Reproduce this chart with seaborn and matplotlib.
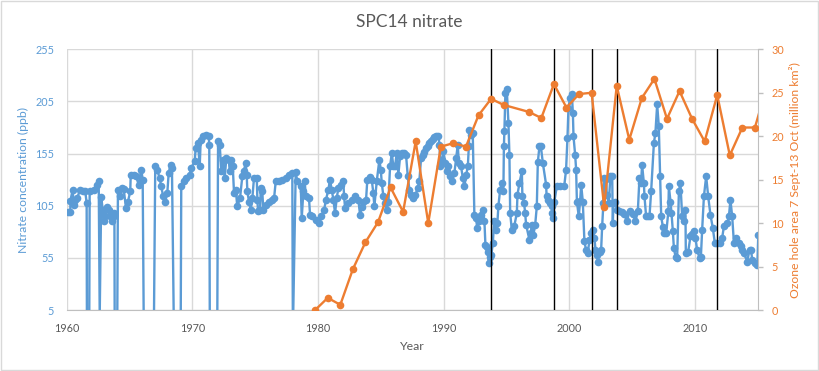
import pandas as pd
import matplotlib
matplotlib.use("Agg")
import matplotlib.pyplot as plt
from matplotlib.patches import Rectangle
import seaborn as sns

# SPC14 nitrate record (decimal year, ppb); 0 = gaps that Excel drew to the floor
nitrate_year = [
    1960.10, 1960.29, 1960.30, 1960.48, 1960.56, 1960.68, 1960.82, 1961.08, 1961.27, 1961.48,
    1961.59, 1961.61, 1961.80, 1961.83, 1962.15, 1962.41, 1962.55, 1962.63, 1962.75, 1962.87,
    1962.95, 1963.07, 1963.21, 1963.34, 1963.47, 1963.61, 1963.74, 1963.80, 1963.82, 1964.03,
    1964.08, 1964.27, 1964.40, 1964.54, 1964.72, 1964.88, 1965.06, 1965.10, 1965.33, 1965.52,
    1965.73, 1965.94, 1966.05, 1966.13, 1966.95, 1967.05, 1967.21, 1967.40, 1967.53, 1967.67,
    1967.85, 1968.01, 1968.12, 1968.28, 1968.38, 1968.52, 1969.08, 1969.12, 1969.34, 1969.52,
    1969.79, 1969.92, 1970.19, 1970.27, 1970.45, 1970.59, 1970.67, 1970.85, 1971.11, 1971.30,
    1971.35, 1971.39, 1971.99, 1972.05, 1972.18, 1972.31, 1972.44, 1972.58, 1972.71, 1972.90,
    1972.98, 1973.10, 1973.22, 1973.32, 1973.46, 1973.58, 1973.80, 1973.98, 1974.09, 1974.25,
    1974.33, 1974.38, 1974.51, 1974.65, 1974.78, 1974.91, 1975.13, 1975.18, 1975.23, 1975.39,
    1975.45, 1975.57, 1975.65, 1975.84, 1976.11, 1976.37, 1976.51, 1976.64, 1976.90, 1977.17,
    1977.44, 1977.70, 1977.96, 1978.00, 1978.03, 1978.23, 1978.36, 1978.63, 1978.71, 1978.84,
    1978.95, 1979.03, 1979.29, 1979.37, 1979.55, 1979.82, 1980.09, 1980.27, 1980.49, 1980.64,
    1980.83, 1980.96, 1981.10, 1981.23, 1981.36, 1981.50, 1981.62, 1981.82, 1982.02, 1982.08,
    1982.16, 1982.42, 1982.69, 1982.95, 1983.22, 1983.35, 1983.49, 1983.62, 1983.83, 1983.93,
    1984.14, 1984.28, 1984.41, 1984.49, 1984.68, 1984.89, 1985.00, 1985.08, 1985.21, 1985.34,
    1985.48, 1985.61, 1985.74, 1985.88, 1986.00, 1986.14, 1986.27, 1986.40, 1986.54, 1986.70,
    1986.86, 1987.01, 1987.15, 1987.28, 1987.41, 1987.60, 1987.76, 1987.95, 1988.07, 1988.21,
    1988.34, 1988.47, 1988.61, 1988.74, 1988.87, 1989.00, 1989.14, 1989.27, 1989.40, 1989.59,
    1989.67, 1989.75, 1989.88, 1989.98, 1990.14, 1990.25, 1990.36, 1990.52, 1990.68, 1990.86,
    1991.00, 1991.13, 1991.21, 1991.39, 1991.53, 1991.66, 1991.79, 1991.93, 1992.01, 1992.06,
    1992.19, 1992.32, 1992.45, 1992.59, 1992.67, 1992.80, 1992.99, 1993.12, 1993.25, 1993.33,
    1993.44, 1993.52, 1993.60, 1993.73, 1993.80, 1993.92, 1994.02, 1994.18, 1994.28, 1994.36,
    1994.50, 1994.63, 1994.76, 1994.80, 1994.84, 1994.92, 1995.03, 1995.16, 1995.24, 1995.30,
    1995.43, 1995.62, 1995.83, 1995.88, 1996.04, 1996.23, 1996.27, 1996.41, 1996.49, 1996.57,
    1996.83, 1996.94, 1997.02, 1997.15, 1997.29, 1997.42, 1997.50, 1997.63, 1997.74, 1997.90,
    1998.16, 1998.20, 1998.34, 1998.48, 1998.61, 1998.66, 1998.70, 1998.82, 1999.01, 1999.30,
    1999.60, 1999.75, 1999.86, 1999.94, 2000.07, 2000.21, 2000.29, 2000.34, 2000.47, 2000.55,
    2000.61, 2000.76, 2000.87, 2000.95, 2001.08, 2001.21, 2001.34, 2001.48, 2001.61, 2001.74,
    2001.88, 2002.01, 2002.09, 2002.20, 2002.28, 2002.41, 2002.54, 2002.62, 2002.72, 2002.80,
    2002.94, 2002.99, 2003.15, 2003.28, 2003.42, 2003.47, 2003.52, 2003.68, 2003.79, 2004.00,
    2004.20, 2004.39, 2004.59, 2004.80, 2005.06, 2005.27, 2005.46, 2005.59, 2005.72, 2005.80,
    2005.94, 2005.99, 2006.12, 2006.26, 2006.39, 2006.52, 2006.74, 2006.86, 2007.00, 2007.13,
    2007.24, 2007.32, 2007.45, 2007.55, 2007.72, 2007.89, 2007.93, 2008.06, 2008.14, 2008.25,
    2008.33, 2008.46, 2008.59, 2008.73, 2008.85, 2008.99, 2009.12, 2009.25, 2009.28, 2009.47,
    2009.65, 2009.79, 2009.92, 2010.05, 2010.18, 2010.37, 2010.48, 2010.58, 2010.72, 2010.90,
    2011.06, 2011.24, 2011.43, 2011.59, 2011.77, 2012.04, 2012.17, 2012.31, 2012.58, 2012.71,
    2012.83, 2012.97, 2013.11, 2013.30, 2013.51, 2013.64, 2013.77, 2013.90, 2014.17, 2014.35,
    2014.48, 2014.56, 2014.78, 2014.97, 2015.05,
]
nitrate_ppb = [
    98.6, 98.6, 110.0, 120.4, 106.0, 110.8, 112.4, 120.0, 118.8, 118.8,
    107.6, 0, 0, 118.8, 120.0, 125.0, 129.0, 0, 113.4, 101.0,
    90.0, 94.7, 104.0, 101.0, 94.7, 90.0, 98.0, 95.0, 0, 0,
    120.0, 114.6, 122.0, 121.0, 102.8, 109.0, 118.8, 134.8, 134.8, 133.5,
    125.0, 139.6, 130.0, 0, 0, 142.8, 139.0, 131.6, 123.6, 114.6,
    109.0, 117.2, 136.4, 144.4, 141.0, 0, 0, 124.0, 128.4, 131.6,
    134.8, 141.3, 147.6, 160.5, 165.3, 142.8, 168.5, 171.6, 173.3, 172.0,
    163.6, 0, 0, 166.9, 163.6, 138.0, 149.2, 131.6, 150.9, 149.0,
    138.0, 149.0, 142.8, 117.2, 120.4, 104.3, 112.4, 133.2, 138.0, 146.0,
    134.8, 118.8, 109.0, 101.0, 112.4, 131.6, 131.6, 110.8, 99.5, 101.0,
    122.0, 118.8, 101.0, 106.0, 109.0, 110.8, 112.4, 128.4, 129.0, 130.0,
    131.6, 134.0, 136.0, 0, 0, 137.0, 128.4, 123.6, 93.2, 118.8,
    128.4, 114.0, 112.0, 96.3, 95.0, 91.5, 88.3, 94.7, 101.0, 110.8,
    120.4, 130.0, 120.0, 110.8, 98.0, 112.4, 122.0, 125.2, 128.4, 114.0,
    102.8, 107.6, 110.8, 114.0, 110.8, 96.3, 104.0, 109.0, 110.8, 130.0,
    133.0, 130.0, 117.2, 104.3, 128.4, 149.2, 139.6, 126.8, 114.0, 107.6,
    101.0, 109.0, 142.8, 155.6, 142.8, 143.0, 155.6, 134.8, 152.4, 155.6,
    155.6, 154.0, 133.2, 120.4, 115.6, 112.4, 115.6, 122.0, 128.4, 150.9,
    154.0, 157.0, 160.0, 162.5, 165.0, 167.0, 169.0, 170.5, 171.5, 172.3,
    163.6, 142.8, 149.2, 157.2, 146.0, 138.0, 142.8, 133.2, 128.4, 136.4,
    150.9, 163.6, 146.0, 142.8, 131.6, 123.6, 134.0, 142.8, 162.0, 178.0,
    173.3, 174.9, 96.3, 93.2, 83.6, 90.0, 96.3, 101.0, 90.0, 67.5,
    65.9, 61.1, 49.9, 56.3, 57.9, 69.1, 90.0, 81.9, 88.3, 104.3,
    120.4, 126.8, 118.8, 162.0, 176.4, 213.4, 216.5, 184.5, 154.0, 98.0,
    81.9, 85.1, 98.0, 115.6, 126.8, 138.0, 114.6, 107.6, 98.0, 86.7,
    72.3, 78.8, 86.7, 77.1, 86.7, 104.3, 146.6, 162.0, 162.0, 146.0,
    125.2, 114.0, 110.8, 107.6, 104.3, 98.0, 93.2, 109.0, 123.6, 124.0,
    123.6, 139.6, 170.1, 198.9, 208.5, 211.7, 194.0, 171.6, 154.0, 139.6,
    109.0, 94.7, 110.0, 125.2, 109.0, 70.7, 62.7, 59.5, 72.3, 78.8,
    81.9, 73.9, 62.7, 57.9, 51.4, 61.1, 62.7, 85.1, 107.6, 131.6,
    131.0, 115.6, 107.6, 133.8, 133.2, 88.3, 107.6, 109.0, 101.0, 100.0,
    99.0, 97.0, 90.0, 99.5, 97.0, 90.0, 99.5, 131.6, 126.8, 144.4,
    126.8, 114.0, 94.7, 94.7, 95.0, 118.8, 165.3, 174.9, 202.1, 181.2,
    133.2, 94.7, 85.0, 79.0, 78.8, 99.5, 123.6, 109.0, 98.0, 80.3,
    64.3, 56.3, 54.7, 118.8, 126.8, 94.7, 90.0, 101.0, 59.5, 61.1,
    75.5, 78.0, 80.3, 73.9, 62.7, 54.7, 56.0, 81.9, 114.0, 133.2,
    114.0, 96.3, 83.6, 69.1, 69.1, 69.1, 73.9, 85.1, 88.3, 94.7,
    110.8, 94.7, 69.1, 73.9, 69.0, 66.0, 62.7, 59.5, 51.4, 62.7,
    62.7, 53.0, 49.9, 48.3, 77.1,
]

# ozone hole area, one value per season (no 1995 value)
ozone_year = [
    1979, 1980, 1981, 1982, 1983, 1984, 1985, 1986, 1987, 1988,
    1989, 1990, 1991, 1992, 1993, 1994, 1996, 1997, 1998, 1999,
    2000, 2001, 2002, 2003, 2004, 2005, 2006, 2007, 2008, 2009,
    2010, 2011, 2012, 2013, 2014, 2015,
]
ozone_area = [
    0.0, 1.4, 0.6, 4.7, 7.8, 10.1, 14.1, 11.3, 19.4, 10.0,
    18.8, 19.2, 18.8, 22.4, 24.3, 23.6, 22.8, 22.1, 26.0, 23.3,
    24.85, 25.0, 11.9, 25.8, 19.6, 24.4, 26.6, 22.0, 25.2, 22.0,
    19.4, 24.75, 17.8, 21.0, 21.0, 26.0,
]
# black markers drawn at these seasons
event_year = [1993, 1998, 2001, 2003, 2011]
season = 0.78  # Sept-Oct as a fraction of the year

BLUE = "#5B9BD5"
ORANGE = "#ED7D31"
GREY = "#595959"
GRID = "#D9D9D9"
AXIS = "#BFBFBF"

sns.set_style("white")
plt.rcParams['font.family'] = ['Lato', 'DejaVu Sans']

fig = plt.figure(figsize=(8.19, 3.71), dpi=100)
ax = fig.add_axes([0.0814, 0.1644, 0.8445, 0.7027])

nit = pd.DataFrame({"Year": nitrate_year, "Nitrate": nitrate_ppb})
oz = pd.DataFrame({"Year": [y + season for y in ozone_year], "Area": ozone_area})

sns.lineplot(data=nit, x="Year", y="Nitrate", ax=ax, sort=False, estimator=None,
             color=BLUE, lw=1.7, marker="o", ms=5.5, mec=BLUE, mew=0, zorder=3)
for e in event_year:
    ax.axvline(e + season, color="black", lw=1, zorder=4)

ax.set_xlim(1960, 2015.05)
ax.set_ylim(5, 255)
ax.set_xticks(range(1960, 2011, 10))
ax.set_yticks(range(5, 256, 50))
ax.grid(True, color=GRID, lw=1)
ax.set_axisbelow(True)
ax.tick_params(axis="y", colors=BLUE, length=0, labelsize=7.8, pad=9)
ax.tick_params(axis="x", colors=GREY, length=0, labelsize=7.8, pad=9)
for s in ["left", "top", "right"]:
    ax.spines[s].set_visible(False)
ax.spines["bottom"].set_color(AXIS)
ax.set_xlabel("Year", color=GREY, fontsize=8.8)
ax.xaxis.set_label_coords(0.5, -0.12)
ax.set_ylabel("Nitrate concentration (ppb)", color=BLUE, fontsize=8.8)
ax.yaxis.set_label_coords(-0.055, 0.5)

ax2 = ax.twinx()
sns.lineplot(data=oz, x="Year", y="Area", ax=ax2, sort=False, estimator=None,
             color=ORANGE, lw=1.7, marker="o", ms=5.5, mec=ORANGE, mew=0, zorder=5)
ax2.set_ylim(0, 30)
ax2.set_yticks(range(0, 31, 5))
ax2.tick_params(axis="y", color=AXIS, labelcolor=ORANGE, length=3.5, width=1,
                direction="out", labelsize=7.8, pad=6)
for s in ["left", "top", "bottom"]:
    ax2.spines[s].set_visible(False)
ax2.spines["right"].set_color(AXIS)
ax2.set_ylabel("Ozone hole area 7 Sept-13 Oct (million km²)", color=ORANGE, fontsize=8.8,
               rotation=90)
ax2.yaxis.set_label_coords(1.044, 0.5)

fig.text(0.4995, 1 - 22 / 371, "SPC14 nitrate", ha="center", va="center",
         fontsize=12.5, color=GREY)
fig.patches.append(Rectangle((0.001, 0.002), 0.998, 0.996, transform=fig.transFigure,
                             fill=False, ec=GRID, lw=1))

fig.savefig("out.png", dpi=100)
plt.close()
